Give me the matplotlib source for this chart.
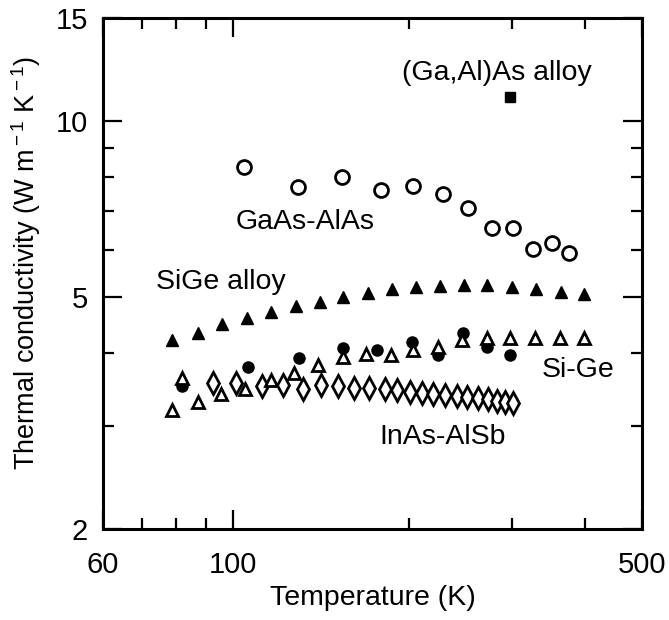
import matplotlib
matplotlib.use("Agg")
import matplotlib.pyplot as plt
from matplotlib.ticker import FixedLocator, NullFormatter

plt.rcParams['font.family'] = ['Liberation Sans', 'DejaVu Sans']
plt.rcParams['mathtext.fontset'] = 'custom'
plt.rcParams['mathtext.rm'] = 'Liberation Sans'
plt.rcParams['mathtext.it'] = 'Liberation Sans:italic'

# GaAs-AlAs superlattice (open circles)
gaas_T = [104.5, 129.2, 153.6, 179.1, 203.1, 228.6, 252.2, 277.2, 301.0, 325.7, 350.9, 375.2]
gaas_k = [8.34, 7.70, 8.01, 7.61, 7.73, 7.49, 7.09, 6.55, 6.55, 6.03, 6.18, 5.94]

# (Ga,Al)As alloy (filled square)
gaal_T = [297.5]
gaal_k = [11.0]

# SiGe alloy (filled triangles)
sige_T = [78.7, 87.2, 95.8, 105.7, 116.2, 128.2, 140.9, 154.2, 170.2, 187.0,
          205.5, 225.9, 248.3, 271.8, 299.9, 329.6, 363.6, 398.1]
sige_k = [4.21, 4.33, 4.49, 4.60, 4.71, 4.82, 4.90, 4.99, 5.07, 5.15,
          5.19, 5.21, 5.23, 5.23, 5.19, 5.15, 5.09, 5.05]

# Si-Ge superlattice (open triangles)
sl_T = [78.7, 81.9, 87.2, 95.4, 104.9, 116.2, 127.2, 139.8, 154.2, 168.8,
        186.3, 203.1, 224.1, 246.3, 271.8, 297.5, 328.3, 362.2, 398.1]
sl_k = [3.19, 3.63, 3.30, 3.41, 3.47, 3.60, 3.70, 3.82, 3.94, 3.99,
        3.97, 4.05, 4.10, 4.21, 4.25, 4.25, 4.25, 4.25, 4.25]

# Si-Ge superlattice (filled circles)
slc_T = [81.9, 106.1, 129.7, 154.2, 176.3, 202.3, 224.1, 247.3, 271.8, 297.5]
slc_k = [3.51, 3.79, 3.93, 4.08, 4.05, 4.18, 3.97, 4.33, 4.10, 3.97]

# InAs-AlSb superlattice (open diamonds)
inas_T = [92.5, 101.3, 112.2, 121.8, 131.8, 141.5, 151.2, 161.1, 170.8, 182.0, 190.8,
          200.8, 210.5, 219.8, 230.4, 241.5, 251.2, 262.3, 272.8, 282.7, 291.7, 301.0]
inas_k = [3.56, 3.56, 3.51, 3.53, 3.47, 3.53, 3.51, 3.49, 3.49, 3.47, 3.46,
          3.43, 3.42, 3.41, 3.39, 3.38, 3.37, 3.35, 3.34, 3.31, 3.30, 3.29]

fig = plt.figure(figsize=(6.69, 6.20), dpi=100)
ax = fig.add_axes([0.154, 0.147, 0.806, 0.824])

ax.plot(gaas_T, gaas_k, 'o', ms=10, mfc='white', mec='black', mew=2, ls='none')
ax.plot(gaal_T, gaal_k, 's', ms=7.5, color='black', ls='none')
ax.plot(sige_T, sige_k, '^', ms=9, color='black', ls='none')
ax.plot(inas_T, inas_k, 'd', ms=11, mfc='white', mec='black', mew=2, ls='none')
ax.plot(slc_T, slc_k, 'o', ms=8, color='black', ls='none')
ax.plot(sl_T, sl_k, '^', ms=9, mfc='white', mec='black', mew=2, ls='none')

ax.set_xscale('log')
ax.set_yscale('log')
ax.set_xlim(60, 500)
ax.set_ylim(2, 15)

ax.xaxis.set_major_locator(FixedLocator([60, 100, 500]))
ax.xaxis.set_minor_locator(FixedLocator([70, 80, 90, 200, 300, 400]))
ax.set_xticklabels(['60', '100', '500'])
ax.xaxis.set_minor_formatter(NullFormatter())
ax.yaxis.set_major_locator(FixedLocator([2, 5, 10, 15]))
ax.yaxis.set_minor_locator(FixedLocator([3, 4, 6, 7, 8, 9]))
ax.set_yticklabels(['2', '5', '10', '15'])
ax.yaxis.set_minor_formatter(NullFormatter())

ax.tick_params(which='both', direction='in', top=True, right=True, width=1.6)
ax.tick_params(which='major', length=14, labelsize=21)
ax.tick_params(axis='x', which='major', pad=16)
ax.tick_params(axis='y', which='major', pad=11)
ax.tick_params(which='minor', length=8)
for s in ax.spines.values():
    s.set_linewidth(2.2)

ax.set_xlabel('Temperature (K)', fontsize=20.5, labelpad=4)
ax.set_ylabel('Thermal conductivity (W m$^{\\rm -1}$ K$^{\\rm -1}$)', fontsize=19.5)
ax.yaxis.set_label_coords(-0.112, 0.52)

ax.text(0.731, 0.892, '(Ga,Al)As alloy', transform=ax.transAxes, fontsize=20.5, ha='center', va='center')
ax.text(0.375, 0.601, 'GaAs-AlAs', transform=ax.transAxes, fontsize=20.5, ha='center', va='center')
ax.text(0.219, 0.483, 'SiGe alloy', transform=ax.transAxes, fontsize=20.5, ha='center', va='center')
ax.text(0.881, 0.311, 'Si-Ge', transform=ax.transAxes, fontsize=20.5, ha='center', va='center')
ax.text(0.629, 0.180, 'InAs-AlSb', transform=ax.transAxes, fontsize=20.5, ha='center', va='center')

fig.savefig('out.png', dpi=100)
